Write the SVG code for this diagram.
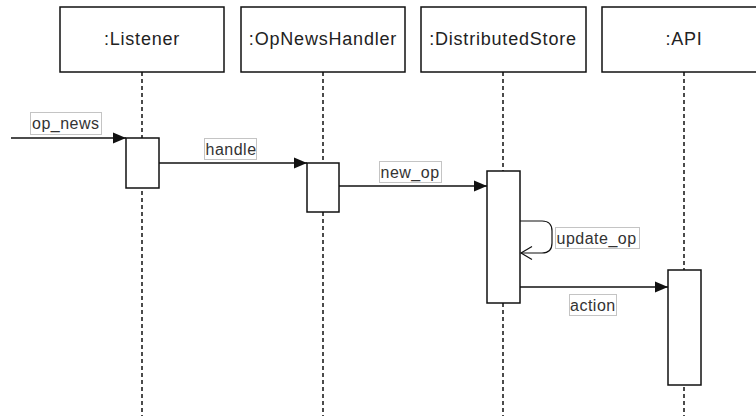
<svg xmlns="http://www.w3.org/2000/svg" width="756" height="416" viewBox="0 0 756 416">
<style>
.box{fill:#fff;stroke:#111;stroke-width:1.5}
.life{stroke:#111;stroke-width:1.5;stroke-dasharray:4 3;fill:none}
.title{font-family:"Liberation Sans",Arial,sans-serif;font-size:18px;letter-spacing:0.8px;fill:#222;text-anchor:middle}
.msg{stroke:#111;stroke-width:1.5;fill:none}
.lbl{fill:#fff;stroke:#c4c4c4;stroke-width:1}
.lt{font-family:"Liberation Sans",Arial,sans-serif;font-size:16px;letter-spacing:0.5px;fill:#333}
</style>
<defs>
<marker id="filled" markerWidth="14" markerHeight="12" refX="13" refY="6" orient="auto" markerUnits="userSpaceOnUse">
<path d="M0,0.5 L13,6 L0,11.5 Z" fill="#111"/>
</marker>
</defs>
<rect width="756" height="416" fill="#fff"/>
<g id="lifelines">
<line class="life" x1="142" y1="72" x2="142" y2="416"/>
<line class="life" x1="323" y1="72" x2="323" y2="416"/>
<line class="life" x1="503" y1="72" x2="503" y2="416"/>
<line class="life" x1="684" y1="72" x2="684" y2="416"/>
</g>
<g id="listener">
<rect class="box" x="60" y="7" width="164" height="65"/>
<text class="title" x="142" y="45">:Listener</text>
<rect class="box" x="126" y="138" width="33" height="50"/>
</g>
<g id="opnewshandler">
<rect class="box" x="241" y="7" width="164" height="65"/>
<text class="title" x="323" y="45">:OpNewsHandler</text>
<rect class="box" x="307" y="163" width="32" height="49"/>
</g>
<g id="distributedstore">
<rect class="box" x="421" y="7" width="165" height="65"/>
<text class="title" x="503" y="45">:DistributedStore</text>
<rect class="box" x="487" y="171" width="33" height="132"/>
</g>
<g id="api">
<rect class="box" x="602" y="7" width="164" height="65"/>
<text class="title" x="684" y="45">:API</text>
<rect class="box" x="668" y="270" width="33" height="115"/>
</g>
<g id="connectors">
<line class="msg" x1="11" y1="138" x2="126" y2="138" marker-end="url(#filled)"/>
<line class="msg" x1="159" y1="163" x2="307" y2="163" marker-end="url(#filled)"/>
<line class="msg" x1="339" y1="186" x2="487" y2="186" marker-end="url(#filled)"/>
<path d="M520,221 H542 Q552,221 552,231 V243 Q552,253 542,253 H521" fill="none" stroke="#111" stroke-width="1.2"/>
<path d="M532,246.5 L521,253 L532,259.5" fill="none" stroke="#111" stroke-width="1.2"/>
<line class="msg" x1="520" y1="287" x2="668" y2="287" marker-end="url(#filled)"/>
<rect class="lbl" x="30.5" y="112.5" width="71" height="22"/>
<text class="lt" x="32" y="128.5">op_news</text>
<rect class="lbl" x="204.5" y="138.5" width="52" height="21"/>
<text class="lt" x="205.5" y="154.5">handle</text>
<rect class="lbl" x="379.5" y="161.5" width="62" height="21"/>
<text class="lt" x="380.5" y="177.5">new_op</text>
<rect class="lbl" x="555.5" y="227.5" width="84" height="21"/>
<text class="lt" x="556.5" y="243.5">update_op</text>
<rect class="lbl" x="569.5" y="294.5" width="47" height="21"/>
<text class="lt" x="570" y="310.5">action</text>
</g>
</svg>
